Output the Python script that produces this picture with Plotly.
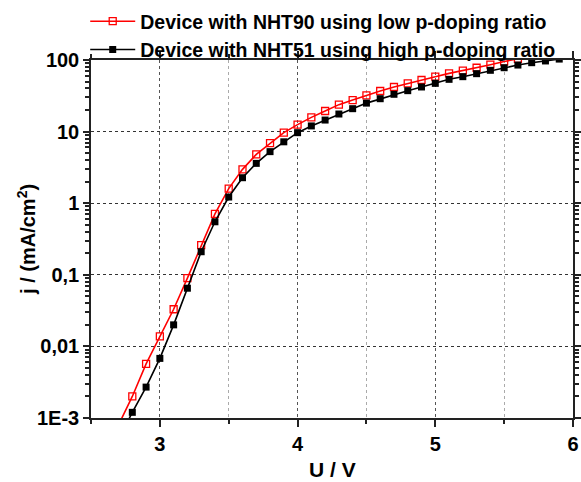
import plotly.graph_objects as go

voltage_red = [2.7, 2.8, 2.9, 3.0, 3.1, 3.2, 3.3, 3.4, 3.5, 3.6, 3.7, 3.8, 3.9, 4.0,
               4.1, 4.2, 4.3, 4.4, 4.5, 4.6, 4.7, 4.8, 4.9, 5.0, 5.1, 5.2, 5.3, 5.4,
               5.5, 5.6]
current_red = [0.0008, 0.002, 0.0057, 0.0138, 0.033, 0.09, 0.26, 0.71, 1.6, 2.97, 4.8,
               6.9, 9.7, 12.5, 15.8, 19.4, 23.8, 27.6, 32.1, 36.9, 42, 47.2, 52.6,
               58.5, 65, 71, 78, 86, 95, 104]

voltage_black = [2.7, 2.8, 2.9, 3.0, 3.1, 3.2, 3.3, 3.4, 3.5, 3.6, 3.7, 3.8, 3.9, 4.0,
                 4.1, 4.2, 4.3, 4.4, 4.5, 4.6, 4.7, 4.8, 4.9, 5.0, 5.1, 5.2, 5.3, 5.4,
                 5.5, 5.6, 5.7, 5.8, 5.9]
current_black = [0.0005, 0.0012, 0.0027, 0.0068, 0.02, 0.065, 0.21, 0.55, 1.22, 2.27,
                 3.6, 5.25, 7.2, 9.66, 12, 14.5, 17.6, 20.9, 25, 28.8, 33.2, 37.3, 42,
                 47.2, 53.7, 58.5, 64.4, 71.8, 78, 85, 91.7, 97, 103]

y_tick_vals = [0.001, 0.01, 0.1, 1, 10, 100]
y_tick_text = ["1E-3", "0,01", "0,1", "1", "10", "100"]
x_tick_vals = [3, 4, 5, 6]

label_red = "Device with NHT90 using low p-doping ratio"
label_black = "Device with NHT51 using high p-doping ratio"
x_title = "U / V"
y_title = "j / (mA/cm<sup>2</sup>)"

y_minor = [m * 10 ** e for e in range(-3, 2) for m in range(2, 10)]

font_family = "Liberation Sans, Arial, sans-serif"

fig = go.Figure()
fig.add_trace(go.Scatter(
    x=voltage_red, y=current_red, name="<b>%s</b>" % label_red, mode="lines+markers",
    line=dict(color="#ff0000", width=1.6),
    marker=dict(symbol="square-open", size=7, color="#ff0000", line=dict(width=1.3)),
))
fig.add_trace(go.Scatter(
    x=voltage_black, y=current_black, name="<b>%s</b>" % label_black, mode="lines+markers",
    line=dict(color="#000000", width=1.6),
    marker=dict(symbol="square", size=7, color="#000000"),
))

fig.update_layout(
    width=581, height=482,
    margin=dict(l=91, r=8, t=60, b=64, autoexpand=False),
    paper_bgcolor="white", plot_bgcolor="white",
    font=dict(family=font_family, size=18, color="black"),
    legend=dict(
        x=-0.012, y=1.162, xanchor="left", yanchor="top",
        bgcolor="rgba(0,0,0,0)", font=dict(size=19.5, family=font_family, color="black"),
        tracegroupgap=0, itemwidth=45,
    ),
    showlegend=True,
)

fig.add_annotation(
    text="<b>%s</b>" % y_title, xref="paper", yref="paper",
    x=-0.135, y=0.5, xanchor="center", yanchor="middle", textangle=-90,
    showarrow=False, font=dict(size=20, family=font_family, color="black"),
)
fig.add_annotation(
    text="<b>%s</b>" % x_title, xref="paper", yref="paper",
    x=0.5, y=-0.143, xanchor="center", yanchor="middle",
    showarrow=False, font=dict(size=21, family=font_family, color="black"),
)

fig.update_xaxes(
    range=[2.5, 6], tickmode="array", tickvals=x_tick_vals,
    ticktext=["<b>%d</b>" % v for v in x_tick_vals],
    ticks="outside", ticklen=7, tickwidth=1.5, tickcolor="#222",
    showline=True, linecolor="#222", linewidth=1.5, mirror="allticks",
    showgrid=True, gridcolor="#555", griddash="dot", gridwidth=1,
    minor=dict(dtick=0.5, tick0=2.5, ticks="outside", ticklen=4, tickcolor="#222",
               showgrid=True, gridcolor="#aaa", griddash="dot", gridwidth=1),
    tickfont=dict(size=20, family=font_family),
    zeroline=False, automargin=False,
)
fig.update_yaxes(
    type="log", range=[-3, 2], tickmode="array", tickvals=y_tick_vals,
    ticktext=["<b>%s</b>" % t for t in y_tick_text],
    ticks="outside", ticklen=6, tickwidth=1.5, tickcolor="#222",
    showline=True, linecolor="#222", linewidth=1.5, mirror="allticks",
    showgrid=True, gridcolor="#333", griddash="dot", gridwidth=1,
    minor=dict(tickmode="array", tickvals=y_minor, ticks="outside", ticklen=4,
               tickcolor="#222", showgrid=False),
    tickfont=dict(size=20, family=font_family),
    zeroline=False, automargin=False,
)

fig.write_html("out.html", config={"displayModeBar": False},
               post_script="document.body.style.margin='0';")
